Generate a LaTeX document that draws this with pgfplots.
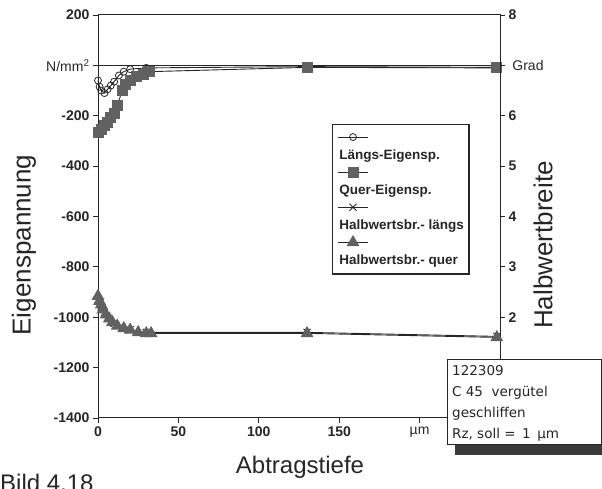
\documentclass[border=0pt]{standalone}
\usepackage{fontspec}
\setmainfont{Liberation Sans}
\newfontfamily\boxfont{DejaVu Sans}
\usepackage{pgfplots}
\pgfplotsset{compat=1.18}

\definecolor{ink}{gray}{0.15}
\definecolor{markfill}{gray}{0.38}

\pgfplotsset{
  laengs/.style={draw=ink, line width=0.9pt, mark=o, mark size=3.5pt,
    mark options={solid, draw=ink, line width=0.8pt}},
  quer/.style={draw=ink, line width=0.9pt, mark=square*, mark size=5pt,
    mark options={fill=markfill, draw=markfill}},
  hlaengs/.style={draw=ink, line width=0.9pt, mark=x, mark size=5pt,
    mark options={draw=ink, line width=0.9pt}},
  hquer/.style={draw=ink, line width=0.9pt, mark=triangle*, mark size=6.5pt,
    mark options={fill=markfill, draw=markfill}},
  % symbol above the text, as in the original legend
  legend image code/.code={
    \path (0pt,-7pt) (0pt,24pt) (40pt,18pt);
    \draw[mark repeat=2, mark phase=2, #1]
      plot coordinates {(2pt,18pt) (17pt,18pt) (32pt,18pt)};
  },
}

\begin{document}
\begin{tikzpicture}
\useasboundingbox (0pt,0pt) rectangle (602pt,489pt);

% left axis: Eigenspannung
\begin{axis}[
    at={(98pt,71pt)}, anchor=south west,
    scale only axis, width=402pt, height=403pt,
    xmin=0, xmax=250, ymin=-1400, ymax=200,
    axis line style={ink, line width=1pt},
    xtick pos=lower, ytick pos=left,
    tick align=outside, major tick length=5pt,
    tick style={ink, line width=0.9pt},
    xtick={0,50,100,150,200},
    xticklabels={0,50,100,150,{\mdseries µm}},
    ytick={-1400,-1200,-1000,-800,-600,-400,-200,0,200},
    yticklabels={-1400,-1200,-1000,-800,-600,-400,-200,{\mdseries N/mm\textsuperscript{2}},200},
    ticklabel style={font=\bfseries\fontsize{14}{14}\selectfont, text=ink},
    clip=false,
]
\addplot[ink, line width=1pt, forget plot] coordinates {(0,0) (250,0)};
% Laengs-Eigenspannung
\addplot[laengs] coordinates {
  (0,-60) (1,-85) (2,-100) (4,-110) (6,-95) (8,-80) (10,-65)
  (13,-40) (16,-25) (20,-15) (30,-10) (130,-5) (248,-8)
};
% Quer-Eigenspannung
\addplot[quer] coordinates {
  (0,-265) (2,-255) (4,-240) (6,-225) (8,-205) (10,-190) (12,-160)
  (15,-100) (17,-75) (20,-60) (24,-45) (28,-35) (32,-25) (130,-8) (248,-10)
};
\end{axis}

% right axis: Halbwertbreite
\begin{axis}[
    at={(98pt,71pt)}, anchor=south west,
    scale only axis, width=402pt, height=403pt,
    xmin=0, xmax=250, ymin=0, ymax=8,
    axis x line=none, axis y line*=right,
    axis line style={ink, line width=1pt},
    tick align=outside, major tick length=5pt,
    tick style={ink, line width=0.9pt},
    ytick={2,3,4,5,6,7,8},
    yticklabels={2,3,4,5,6,{\mdseries\ Grad},8},
    ticklabel style={font=\bfseries\fontsize{14}{14}\selectfont, text=ink},
    legend style={at={(rel axis cs:0.582,0.7295)}, anchor=north west,
      draw=ink, line width=1.2pt, fill=white,
      font=\bfseries\fontsize{13.5}{13.5}\selectfont, text=ink,
      inner xsep=3pt, inner ysep=6pt, row sep=3pt,
      /tikz/every odd column/.style={column sep=-39pt}},
    legend cell align=left,
]
\addlegendimage{laengs}
\addlegendentry{Längs-Eigensp.}
\addlegendimage{quer}
\addlegendentry{Quer-Eigensp.}
% Halbwertsbreite laengs
\addplot[hlaengs] coordinates {
  (0,2.35) (2,2.2) (4,2.1) (6,2.0) (10,1.88) (15,1.8) (20,1.75)
  (30,1.7) (130,1.7) (248,1.62)
};
\addlegendentry{Halbwertsbr.- längs}
% Halbwertsbreite quer
\addplot[hquer] coordinates {
  (0,2.42) (1,2.32) (2,2.25) (3,2.15) (5,2.05) (7,1.97) (9,1.9) (12,1.83)
  (16,1.78) (20,1.75) (25,1.7) (30,1.68) (33,1.68) (130,1.68) (248,1.6)
};
\addlegendentry{Halbwertsbr.- quer}
\end{axis}

% axis titles
\node[rotate=90, font=\fontsize{26}{26}\selectfont, text=ink] at (24pt,244pt) {Eigenspannung};
\node[rotate=90, font=\fontsize{26}{26}\selectfont, text=ink] at (543pt,244pt) {Halbwertbreite};
\node[font=\fontsize{24}{24}\selectfont, text=ink] at (300pt,22pt) {Abtragstiefe};
\node[anchor=base west, font=\fontsize{24}{24}\selectfont, text=ink, inner sep=0pt] at (0pt,-3pt) {Bild 4.18};

% sample box with shadow
\fill[gray!45!black] (455pt,34pt) rectangle (602pt,44pt);
\draw[ink, line width=1pt, fill=white] (447pt,44pt) rectangle (601pt,129pt);
\node[anchor=north west, align=left, inner sep=0pt, text=ink,
      font=\boxfont\fontsize{13.5}{21}\selectfont] at (452pt,124pt)
  {122309\\C 45 \ vergütel\\geschliffen\\Rz, soll = \,1 \,µm};
\end{tikzpicture}
\end{document}
